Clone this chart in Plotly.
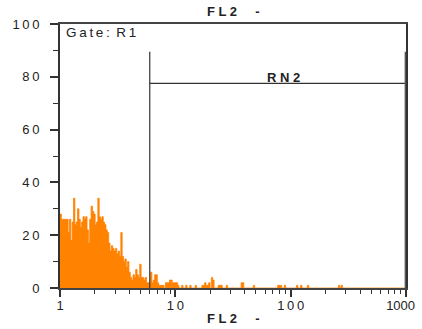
import plotly.graph_objects as go

# ---- data ----
n_channels = 256
decades = 3
# counts of the first channels (FL2 from 1 up to ~7)
counts_low = [28, 26, 26, 26, 26, 26, 21, 26, 18, 25,
              34, 24, 25, 30, 26, 23, 25, 27, 26, 27,
              22, 17, 26, 31, 29, 28, 24, 25, 34, 27,
              26, 27, 25, 24, 22, 21, 17, 14, 16, 15,
              14, 15, 13, 14, 12, 21, 12, 10, 11, 8,
              10, 6, 4, 3, 5, 4, 7, 5, 4, 9,
              4, 4, 3, 4, 2, 2, 1, 6, 2, 3,
              5, 5, 2, 1]
# sparse events above that
sparse_channels = [74, 75, 76, 78, 79, 80, 81, 82, 83, 84, 85, 86, 87, 90, 93, 96, 100,
                   105, 106, 107, 108, 109, 110, 112, 113, 117, 118, 119, 123,
                   134, 135, 143, 161, 162, 163, 166, 175, 178, 183, 206, 208]
sparse_counts = [1, 1, 1, 2, 2, 2, 3, 3, 2, 2, 2, 2, 1, 1, 1, 1, 1,
                 1, 1, 2, 1, 1, 2, 4, 3, 1, 1, 1, 1,
                 2, 2, 1, 1, 1, 1, 1, 1, 1, 1, 1, 1]

y_ticks = [0, 20, 40, 60, 80, 100]
x_ticks = [1, 10, 100, 1000]
x_tick_labels = ["1", "1\u20090", "1\u20090\u20090", "1000\u00a0\u00a0\u00a0"]

gate_lo, gate_hi = 6.0, 1000.0
gate_marker_top = 89.5
gate_level = 77.5

# ---- build histogram ----
counts = [0] * n_channels
for i, c in enumerate(counts_low):
    counts[i] = c
for ch, c in zip(sparse_channels, sparse_counts):
    counts[ch] = c

edges = [10 ** (i * decades / n_channels) for i in range(n_channels + 1)]
hx = edges
hy = counts + [counts[-1]]

orange = "#FF8200"
ink = "#222222"
font_family = "Liberation Sans, Arial, sans-serif"

fig = go.Figure()
fig.add_trace(go.Scatter(
    x=hx, y=hy, mode="lines", line=dict(shape="hv", color=orange, width=0.8),
    fill="tozeroy", fillcolor=orange, hoverinfo="skip", showlegend=False))

# gate RN2 markers
fig.add_trace(go.Scatter(x=[gate_lo, gate_lo], y=[0, gate_marker_top], mode="lines",
                         line=dict(color="#333333", width=1.2), showlegend=False))
fig.add_trace(go.Scatter(x=[gate_lo, gate_hi], y=[gate_level, gate_level], mode="lines",
                         line=dict(color="#333333", width=1.2), showlegend=False))
fig.add_trace(go.Scatter(x=[gate_hi * 0.995, gate_hi * 0.995], y=[0, gate_marker_top], mode="lines",
                         line=dict(color="#555555", width=2.2), showlegend=False))

minor_x = [m * 10 ** d for d in range(3) for m in range(2, 10)]

fig.update_xaxes(
    type="log", range=[0, 3], automargin=False,
    tickvals=x_ticks, ticktext=x_tick_labels,
    ticks="outside", ticklen=7, tickwidth=1.5, tickcolor="#333",
    minor=dict(tickvals=minor_x, ticks="outside", ticklen=4, tickwidth=1.2, tickcolor="#333"),
    showline=True, linecolor="#444", linewidth=2, mirror=True,
    showgrid=False, zeroline=False, ticklabelstandoff=-3,
    ticklabeloverflow="allow",
    tickfont=dict(family=font_family, size=13, color=ink),
)
fig.update_yaxes(
    range=[0, 100], automargin=False,
    tickvals=y_ticks, ticktext=["\u2009".join(str(v)) for v in y_ticks],
    ticks="outside", ticklen=8, tickwidth=1.5, tickcolor="#333",
    minor=dict(dtick=10, ticks="outside", ticklen=5, tickwidth=1.2, tickcolor="#333"),
    showline=True, linecolor="#333", linewidth=2, mirror=True,
    showgrid=False, zeroline=False, ticklabelstandoff=8,
    tickfont=dict(family=font_family, size=13, color=ink),
)

ann_font = dict(family=font_family, size=13, color=ink)
fig.update_layout(
    width=422, height=329,
    margin=dict(l=60, r=16, t=24, b=41, autoexpand=False),
    paper_bgcolor="white", plot_bgcolor="white",
    showlegend=False,
    annotations=[
        dict(text="<b>F L 2     -</b>", xref="paper", yref="paper", x=0.5, y=-0.117,
             xanchor="center", yanchor="middle", showarrow=False, font=ann_font),
        dict(text="<b>F L 2     -</b>", xref="paper", yref="paper", x=0.5, y=1.048,
             xanchor="center", yanchor="middle", showarrow=False, font=ann_font),
        dict(text="G\u2009a\u2009t\u2009e\u2009:\u2009 R\u20091", xref="paper", yref="paper",
             x=0.012, y=0.966, xanchor="left", yanchor="middle", showarrow=False,
             font=dict(family=font_family, size=13.5, color=ink)),
        dict(text="<b>R N 2</b>", xref="paper", yref="paper", x=0.647, y=0.797,
             xanchor="center", yanchor="middle", showarrow=False, font=ann_font),
    ],
)

# remove the default 8px page margin so the figure fills the window exactly
fig.write_html(
    "out.html",
    config={"displayModeBar": False},
    post_script="document.body.style.margin='0';"
                "document.documentElement.style.overflow='hidden';",
)
